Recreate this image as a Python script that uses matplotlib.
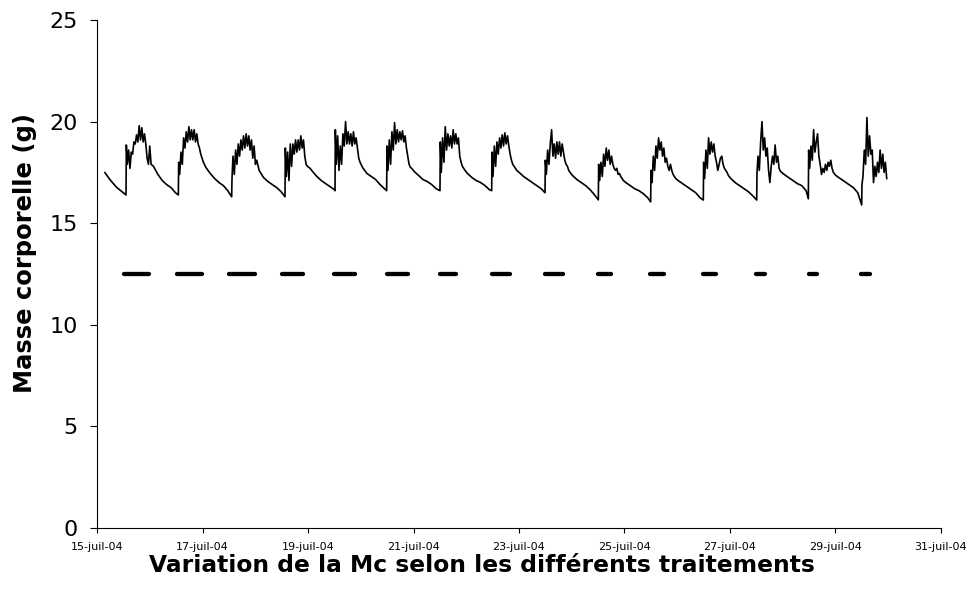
import numpy as np
import matplotlib.pyplot as plt

# hours after the daily jump at which each cycle value is read
hours = [0, 0.15, 0.6, 1.2, 1.8, 2.4, 3.0, 3.6, 4.2, 4.8, 5.4, 6.0, 6.6, 7.2, 7.8,
         8.4, 9.0, 9.6, 10.2, 10.8, 11.4, 12.5, 14.5, 16.5, 18.5, 20.5, 22.5]

# time of the daily jump (day of July)
jump_days = [15.550, 16.542, 17.553, 18.564, 19.512, 20.491, 21.502, 22.482,
             23.493, 24.504, 25.496, 26.494, 27.506, 28.485, 29.496]

# start of the record, before the first jump
start_days = [15.15, 15.25, 15.37, 15.50]
start_mass = [17.49, 17.13, 16.77, 16.50]

jul15 = [16.39, 18.85, 17.9, 18.6, 17.7, 18.5, 18.4, 19.0, 18.9, 19.35, 19.0, 19.8, 19.1, 19.7,
         19.0, 19.4, 18.9, 18.2, 17.9, 18.8, 17.9, 17.8, 17.4, 17.1, 16.9, 16.75, 16.5]
jul16 = [16.39, 18.0, 17.4, 18.5, 17.9, 19.2, 18.7, 19.5, 19.0, 19.75, 19.1, 19.6, 19.1, 19.6,
         19.0, 19.4, 18.9, 18.7, 18.4, 18.2, 18.0, 17.75, 17.45, 17.2, 17.0, 16.85, 16.6]
jul17 = [16.3, 17.2, 18.3, 17.4, 18.6, 17.9, 18.9, 18.3, 19.1, 18.6, 19.3, 18.7, 19.4, 18.8,
         19.3, 18.6, 19.1, 18.2, 18.8, 17.9, 18.1, 17.6, 17.25, 17.05, 16.9, 16.75, 16.55]
jul18 = [16.3, 18.7, 17.3, 18.5, 17.1, 18.9, 17.8, 18.9, 18.4, 19.1, 18.5, 19.1, 18.6, 19.3,
         18.7, 19.1, 18.3, 17.9, 17.8, 17.75, 17.7, 17.55, 17.3, 17.1, 16.95, 16.8, 16.65]
jul19 = [16.6, 19.6, 17.9, 19.3, 17.6, 18.8, 17.9, 19.4, 18.8, 20.0, 18.9, 19.5, 18.9, 19.4,
         18.8, 19.5, 18.9, 19.2, 18.7, 18.2, 18.0, 17.75, 17.45, 17.3, 17.15, 16.9, 16.7]
jul20 = [16.6, 18.8, 17.6, 19.1, 17.9, 19.5, 18.6, 19.95, 18.9, 19.6, 19.0, 19.5, 19.1, 19.55,
         19.0, 19.3, 18.7, 18.3, 17.9, 17.75, 17.7, 17.55, 17.35, 17.15, 17.05, 16.9, 16.7]
jul21 = [16.6, 19.0, 17.5, 19.2, 18.0, 19.75, 18.6, 19.4, 18.8, 19.3, 18.7, 19.6, 18.9, 19.4,
         18.9, 19.2, 18.3, 18.0, 17.8, 17.7, 17.6, 17.45, 17.25, 17.1, 17.0, 16.85, 16.65]
jul22 = [16.6, 18.5, 17.3, 18.8, 17.8, 19.0, 18.4, 19.2, 18.7, 19.35, 18.8, 19.45, 18.9, 19.3,
         18.8, 18.4, 18.1, 17.9, 17.8, 17.7, 17.6, 17.5, 17.3, 17.15, 17.0, 16.85, 16.7]
jul23 = [16.5, 18.1, 17.4, 18.6, 17.9, 18.9, 19.6, 18.3, 18.9, 18.2, 19.0, 18.4, 19.0, 18.3,
         18.9, 18.5, 18.1, 17.9, 17.8, 17.6, 17.5, 17.35, 17.15, 17.0, 16.85, 16.65, 16.4]
jul24 = [16.15, 17.9, 17.1, 18.0, 17.3, 18.4, 17.8, 18.7, 18.1, 18.6, 17.9, 18.3, 17.9, 17.7,
         17.6, 17.7, 17.4, 17.45, 17.3, 17.2, 17.1, 17.0, 16.85, 16.7, 16.6, 16.45, 16.25]
jul25 = [16.05, 17.6, 17.0, 18.3, 17.6, 18.8, 18.2, 19.2, 18.6, 19.0, 18.3, 18.7, 18.0, 18.2,
         17.8, 17.6, 17.9, 17.6, 17.4, 17.3, 17.2, 17.1, 16.95, 16.8, 16.65, 16.5, 16.25]
jul26 = [16.14, 18.0, 17.2, 18.6, 17.7, 19.2, 18.4, 19.0, 18.5, 18.9, 18.3, 18.0, 17.6, 17.9,
         18.2, 18.3, 17.9, 17.7, 17.6, 17.5, 17.35, 17.2, 17.0, 16.85, 16.7, 16.55, 16.35]
jul27 = [16.14, 17.5, 18.3, 17.6, 19.0, 20.0, 18.6, 19.2, 18.3, 18.7, 17.6, 17.0, 17.8, 18.3,
         17.9, 18.85, 18.0, 18.3, 17.7, 17.55, 17.5, 17.4, 17.25, 17.1, 16.95, 16.85, 16.6]
jul28 = [16.2, 18.6, 17.7, 18.8, 18.1, 19.6, 18.5, 19.0, 19.4, 18.3, 17.9, 17.4, 17.7, 17.5,
         17.9, 17.6, 18.0, 17.8, 18.1, 17.7, 17.5, 17.35, 17.2, 17.05, 16.9, 16.75, 16.5]
jul29 = [15.9, 16.9, 17.3, 18.6, 17.9, 20.2, 18.3, 19.3, 18.4, 18.6, 17.0, 17.8, 17.3, 18.0,
         17.5, 18.6, 17.7, 18.4, 17.5, 18.0, 17.2]

# treatment bars at 12.5 g (start / end of each daily period)
treat_level = 12.5
treat_start = [15.51, 16.51, 17.50, 18.50, 19.49, 20.49, 21.50, 22.49, 23.50, 24.50,
               25.49, 26.49, 27.50, 28.49, 29.49]
treat_end = [15.98, 16.99, 17.99, 18.90, 19.90, 20.89, 21.81, 22.82, 23.83, 24.74,
             25.74, 26.74, 27.66, 28.65, 29.65]

tick_days = [15, 17, 19, 21, 23, 25, 27, 29, 31]
tick_labels = ["15-juil-04", "17-juil-04", "19-juil-04", "21-juil-04", "23-juil-04",
               "25-juil-04", "27-juil-04", "29-juil-04", "31-juil-04"]


def build_series():
    cycles = [jul15, jul16, jul17, jul18, jul19, jul20, jul21, jul22,
              jul23, jul24, jul25, jul26, jul27, jul28, jul29]
    t = list(start_days)
    m = list(start_mass)
    for day, vals in zip(jump_days, cycles):
        t += [day + h / 24 for h in hours[:len(vals)]]
        m += vals
    return np.array(t), np.array(m)


def figure():
    fig = plt.figure(figsize=(9.71, 5.96), dpi=100)
    ax = fig.add_axes([0.0999, 0.1141, 0.8692, 0.8523])

    t, m = build_series()
    ax.plot(t, m, color="black", lw=1.2)

    for a, b in zip(treat_start, treat_end):
        ax.plot([a, b], [treat_level, treat_level], color="black", lw=3.1,
                solid_capstyle="round")

    ax.set(xlim=(15, 31), ylim=(0, 25))
    ax.spines["top"].set_visible(False)
    ax.spines["right"].set_visible(False)
    for s in ("left", "bottom"):
        ax.spines[s].set_linewidth(0.8)

    ax.set_xticks(tick_days)
    ax.set_xticklabels(tick_labels, fontsize=8)
    ax.set_yticks(range(0, 26, 5))
    ax.tick_params(axis="y", labelsize=16, length=5, width=0.8, pad=9)
    ax.tick_params(axis="x", length=3.8, width=0.8, pad=6)

    fig.text(25 / 971, 1 - 253 / 596, "Masse corporelle (g)", rotation=90,
             ha="center", va="center", fontsize=17.5, fontweight="bold")
    fig.text(482 / 971, 1 - 565 / 596, "Variation de la Mc selon les différents traitements",
             ha="center", va="center", fontsize=16.8, fontweight="bold")

    fig.savefig("out.png", dpi=100)


if __name__ == '__main__':
    figure()
